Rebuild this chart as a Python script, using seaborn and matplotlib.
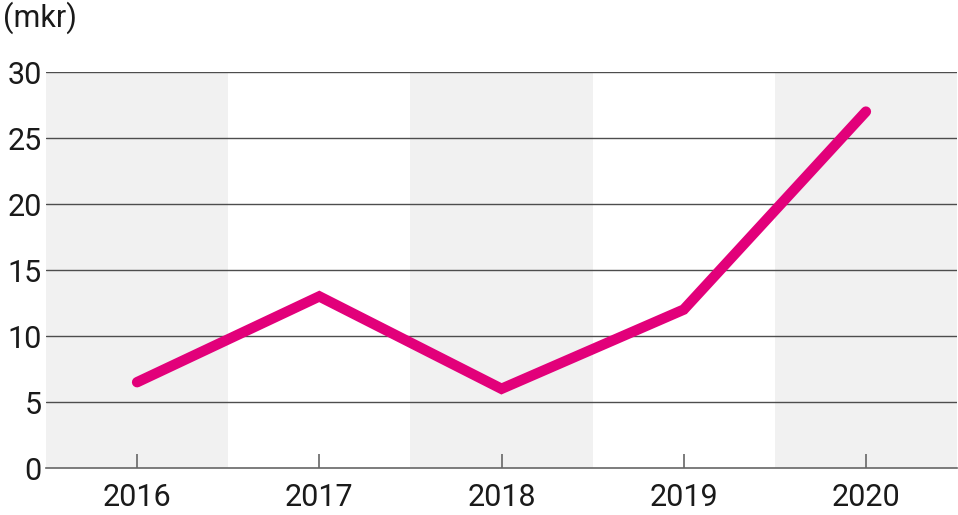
import matplotlib
matplotlib.use("Agg")
import matplotlib.pyplot as plt
import seaborn as sns
import pandas as pd

years = [2016, 2017, 2018, 2019, 2020]
values = [6.5, 13.0, 6.0, 12.0, 27.0]
yticks = [0, 5, 10, 15, 20, 25, 30]
unit_label = "(mkr)"

sns.set_theme(style="white")
plt.rcParams['font.family'] = ['Roboto', 'DejaVu Sans']

df = pd.DataFrame({"year": years, "value": values})

fig = plt.figure(figsize=(9.58, 5.15), dpi=100)
ax = fig.add_axes([46/958, (515-468)/515, (957-46)/958, (468-72)/515])

for i, y in enumerate(years):
    if i % 2 == 0:
        ax.axvspan(y - 0.5, y + 0.5, color="#f1f1f1", zorder=0, lw=0)

for t in yticks[1:]:
    ax.axhline(t, color="#4d4d4d", lw=1.0, zorder=1)

sns.lineplot(data=df, x="year", y="value", ax=ax, color="#e2007a", lw=7.5,
             solid_capstyle="round", solid_joinstyle="miter", zorder=3)

ax.set_xlim(years[0] - 0.5, years[-1] + 0.5)
ax.set_ylim(0, 30)
ax.set_yticks(yticks)
ax.set_xticks(years)
ax.set_xticklabels([str(y) for y in years])
ax.set_xlabel("")
ax.set_ylabel("")
for s in ["top", "right", "left"]:
    ax.spines[s].set_visible(False)
ax.spines["bottom"].set_color("#666666")
ax.spines["bottom"].set_linewidth(1.2)
ax.tick_params(axis="x", direction="in", length=10, width=1.2, color="#666666",
               labelsize=22, labelcolor="#1a1a1a", pad=11, bottom=True)
ax.tick_params(axis="y", length=0, labelsize=22, labelcolor="#1a1a1a", pad=3)

fig.text(3/958, 1 - 18/515, unit_label, fontsize=22, color="#1a1a1a",
         ha="left", va="center")

fig.savefig("out.png", dpi=100)
